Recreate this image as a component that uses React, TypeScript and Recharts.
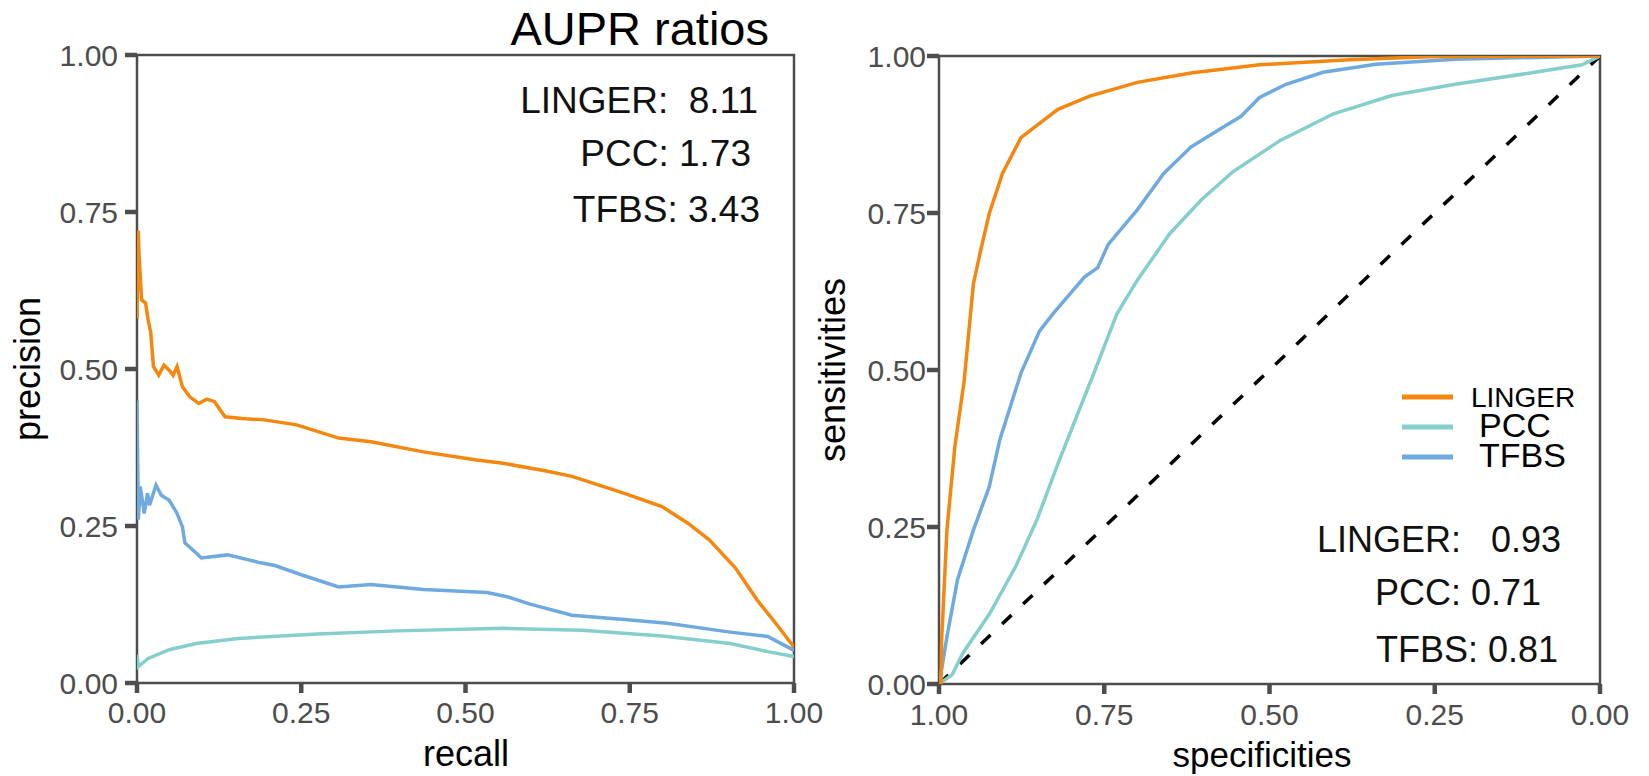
import { LineChart, Line, XAxis, YAxis, ReferenceArea } from "recharts";

// precision-recall curves (left panel)
const lingerRecall = [0, 0.002, 0.003, 0.007, 0.013, 0.017, 0.021, 0.025, 0.033, 0.041, 0.049, 0.055, 0.061, 0.069, 0.08, 0.094, 0.106, 0.118, 0.134, 0.16, 0.194, 0.243, 0.307, 0.356, 0.436, 0.517, 0.557, 0.621, 0.662, 0.742, 0.799, 0.839, 0.871, 0.911, 0.944, 0.976, 1.0];
const lingerPrecision = [0.58, 0.72, 0.684, 0.61, 0.605, 0.578, 0.557, 0.504, 0.49, 0.506, 0.498, 0.49, 0.504, 0.472, 0.456, 0.445, 0.452, 0.448, 0.424, 0.421, 0.419, 0.411, 0.39, 0.384, 0.368, 0.355, 0.35, 0.338, 0.329, 0.302, 0.281, 0.254, 0.228, 0.183, 0.132, 0.09, 0.057];

const tfbsRecall = [0, 0.002, 0.005, 0.011, 0.016, 0.019, 0.029, 0.037, 0.049, 0.061, 0.069, 0.073, 0.09, 0.098, 0.138, 0.17, 0.186, 0.21, 0.251, 0.307, 0.356, 0.436, 0.533, 0.565, 0.597, 0.662, 0.742, 0.807, 0.903, 0.96, 1.0];
const tfbsPrecision = [0.45, 0.26, 0.313, 0.27, 0.302, 0.283, 0.315, 0.299, 0.291, 0.27, 0.249, 0.223, 0.207, 0.199, 0.204, 0.196, 0.192, 0.187, 0.172, 0.153, 0.157, 0.149, 0.144, 0.137, 0.126, 0.108, 0.101, 0.095, 0.081, 0.074, 0.052];

const pccRecall = [0, 0.002, 0.017, 0.049, 0.09, 0.154, 0.275, 0.396, 0.557, 0.678, 0.799, 0.903, 0.96, 1.0];
const pccPrecision = [0.045, 0.026, 0.039, 0.053, 0.063, 0.071, 0.078, 0.083, 0.087, 0.084, 0.075, 0.063, 0.05, 0.042];

// ROC curves (right panel)
const lingerSpec = [1, 0.997, 0.996, 0.988, 0.976, 0.962, 0.948, 0.936, 0.924, 0.904, 0.876, 0.844, 0.82, 0.772, 0.7, 0.619, 0.515, 0.379, 0.259, 0];
const lingerSens = [0, 0.001, 0.07, 0.245, 0.378, 0.482, 0.637, 0.695, 0.749, 0.813, 0.87, 0.896, 0.915, 0.936, 0.958, 0.973, 0.986, 0.994, 0.999, 1.0];

const tfbsSpec = [1, 0.997, 0.988, 0.972, 0.948, 0.924, 0.908, 0.876, 0.848, 0.828, 0.78, 0.76, 0.744, 0.7, 0.66, 0.619, 0.571, 0.543, 0.515, 0.475, 0.419, 0.339, 0.219, 0];
const tfbsSens = [0, 0.017, 0.075, 0.166, 0.245, 0.314, 0.389, 0.495, 0.562, 0.589, 0.648, 0.663, 0.7, 0.755, 0.813, 0.855, 0.886, 0.904, 0.934, 0.955, 0.974, 0.987, 0.995, 1.0];

const pccSpec = [1, 0.98, 0.964, 0.924, 0.884, 0.852, 0.82, 0.788, 0.766, 0.731, 0.7, 0.651, 0.603, 0.555, 0.483, 0.403, 0.315, 0.219, 0.099, 0.027, 0];
const pccSens = [0, 0.015, 0.049, 0.111, 0.187, 0.261, 0.351, 0.436, 0.494, 0.589, 0.643, 0.717, 0.771, 0.816, 0.866, 0.908, 0.937, 0.955, 0.974, 0.986, 1.0];

const chanceSpec = [1, 0];
const chanceSens = [0, 1];

const axisTicks = [0, 0.25, 0.5, 0.75, 1];
const aupr = [
  { label: "LINGER:  8.11", x: 758, y: 113 },
  { label: "PCC: 1.73", x: 751, y: 166 },
  { label: "TFBS: 3.43", x: 760, y: 222 },
];
const auroc = [
  { label: "LINGER:   0.93", x: 1561, y: 552 },
  { label: "PCC: 0.71", x: 1541, y: 605 },
  { label: "TFBS: 0.81", x: 1558, y: 662 },
];

const colors = { linger: "#f4870f", pcc: "#84cfcb", tfbs: "#6eaadf" };
const FONT = '"Liberation Sans", Arial, sans-serif';
const GRAY = "#4d4d4d";

const zip = (xs: number[], ys: number[]) => xs.map((x, i) => ({ x, y: ys[i] }));
const fmt = (v: number) => v.toFixed(2);

const tickStyle = { fontSize: 30, fill: GRAY, fontFamily: FONT };
const tickLine = { stroke: GRAY, strokeWidth: 4.5 };

export default function App() {
  return (
    <div style={{ position: "absolute", left: 0, top: 0, width: 1649, height: 776, background: "#fff" }}>
      <div style={{ position: "absolute", left: 0, top: 0 }}>
        <LineChart width={830} height={776} margin={{ top: 55, right: 36, bottom: 13, left: 17 }}>
          <XAxis type="number" dataKey="x" domain={[0, 1]} ticks={axisTicks} tickFormatter={fmt}
            allowDataOverflow axisLine={false} tickLine={tickLine} tickSize={10} tickMargin={9}
            height={80} tick={tickStyle} interval={0} />
          <YAxis type="number" dataKey="y" domain={[0, 1]} ticks={axisTicks} tickFormatter={fmt}
            allowDataOverflow axisLine={false} tickLine={tickLine} tickSize={12} tickMargin={7}
            width={120} tick={tickStyle} interval={0} />
          <ReferenceArea x1={0} x2={1} y1={0} y2={1} fill="none" stroke={GRAY} strokeWidth={2.5} />
          <Line data={zip(pccRecall, pccPrecision)} dataKey="y" stroke={colors.pcc} strokeWidth={3.5} dot={false} isAnimationActive={false} />
          <Line data={zip(tfbsRecall, tfbsPrecision)} dataKey="y" stroke={colors.tfbs} strokeWidth={3.5} dot={false} isAnimationActive={false} />
          <Line data={zip(lingerRecall, lingerPrecision)} dataKey="y" stroke={colors.linger} strokeWidth={3.5} dot={false} isAnimationActive={false} />
        </LineChart>
      </div>
      <div style={{ position: "absolute", left: 830, top: 0 }}>
        <LineChart width={819} height={776} margin={{ top: 56, right: 49, bottom: 12, left: 9 }}>
          <XAxis type="number" dataKey="x" domain={[0, 1]} reversed ticks={axisTicks} tickFormatter={fmt}
            allowDataOverflow axisLine={false} tickLine={tickLine} tickSize={10} tickMargin={10}
            height={80} tick={tickStyle} interval={0} />
          <YAxis type="number" dataKey="y" domain={[0, 1]} ticks={axisTicks} tickFormatter={fmt}
            allowDataOverflow axisLine={false} tickLine={tickLine} tickSize={12} tickMargin={1}
            width={100} tick={tickStyle} interval={0} />
          <ReferenceArea x1={0} x2={1} y1={0} y2={1} fill="none" stroke={GRAY} strokeWidth={2.5} />
          <Line data={zip(chanceSpec, chanceSens)} dataKey="y" stroke="#000" strokeWidth={3.5} strokeDasharray="13 16" dot={false} isAnimationActive={false} />
          <Line data={zip(pccSpec, pccSens)} dataKey="y" stroke={colors.pcc} strokeWidth={3.5} dot={false} isAnimationActive={false} />
          <Line data={zip(tfbsSpec, tfbsSens)} dataKey="y" stroke={colors.tfbs} strokeWidth={3.5} dot={false} isAnimationActive={false} />
          <Line data={zip(lingerSpec, lingerSens)} dataKey="y" stroke={colors.linger} strokeWidth={3.5} dot={false} isAnimationActive={false} />
        </LineChart>
      </div>
      <svg width={1649} height={776} style={{ position: "absolute", left: 0, top: 0, pointerEvents: "none" }}
        fontFamily={FONT}>
        <text x={769} y={45} fontSize={47} textAnchor="end" fill="#000">AUPR ratios</text>
        {aupr.map((a) => (
          <text key={a.label} x={a.x} y={a.y} fontSize={37} textAnchor="end" fill="#111" style={{ whiteSpace: "pre" }}>{a.label}</text>
        ))}
        {auroc.map((a) => (
          <text key={a.label} x={a.x} y={a.y} fontSize={36} textAnchor="end" fill="#111" style={{ whiteSpace: "pre" }}>{a.label}</text>
        ))}
        {/* axis titles */}
        <text x={466} y={766} fontSize={36} textAnchor="middle" fill="#000">recall</text>
        <text x={1262} y={767} fontSize={35} textAnchor="middle" fill="#000">specificities</text>
        <text transform="translate(40,369) rotate(-90)" fontSize={36} textAnchor="middle" fill="#000">precision</text>
        <text transform="translate(845,370) rotate(-90)" fontSize={36} textAnchor="middle" fill="#000">sensitivities</text>
        {/* legend */}
        <line x1={1402} x2={1453} y1={397} y2={397} stroke={colors.linger} strokeWidth={5} />
        <line x1={1402} x2={1453} y1={427} y2={427} stroke={colors.pcc} strokeWidth={5} />
        <line x1={1402} x2={1453} y1={457} y2={457} stroke={colors.tfbs} strokeWidth={5} />
        <text x={1471} y={407} fontSize={28} fill="#000">LINGER</text>
        <text x={1479} y={437} fontSize={34} fill="#000">PCC</text>
        <text x={1479} y={467} fontSize={34} fill="#000">TFBS</text>
      </svg>
    </div>
  );
}
